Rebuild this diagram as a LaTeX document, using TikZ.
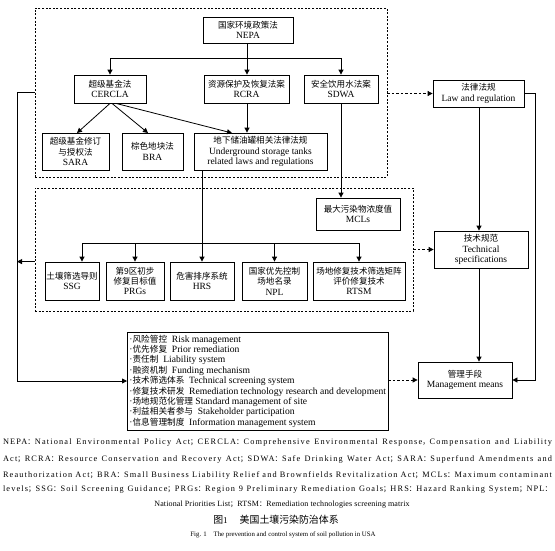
\documentclass[tikz,border=0pt]{standalone}
\usepackage{fontspec}
\setmainfont{Liberation Serif}
\newfontfamily\cjk{Noto Sans CJK SC}[Scale=0.9]
\usetikzlibrary{arrows.meta}
\newcommand\zh[1]{{\cjk #1}}
\newcommand\fc{\zh{：}}
\newcommand\fs{\zh{；}}
\tikzset{
  bx/.style={draw, line width=0.8pt, inner sep=0pt, align=center, font=\fontsize{9.5}{10.4}\selectfont},
  dbox/.style={draw, line width=0.7pt, dash pattern=on 2pt off 1.6pt, inner sep=0pt},
  ln/.style={line width=0.8pt},
  arr/.style={ln, -{Triangle[length=5pt,width=5pt]}},
  darr/.style={arr, dash pattern=on 2.5pt off 2pt},
  capline/.style={inner sep=0pt, font=\fontsize{8}{9}\selectfont},
  capjust/.style={inner sep=0pt, font=\fontsize{8.3}{9}\selectfont\addfontfeature{LetterSpace=14}},
}
\begin{document}
\begin{tikzpicture}[x=1pt,y=-1pt]
\useasboundingbox (0,0) rectangle (555,550);
% dashed groups
\node[dbox, minimum width=352pt, minimum height=169pt] (g1) at (211,92.5) {};
\node[dbox, minimum width=378pt, minimum height=123pt] (g2) at (224,249.5) {};
% first group
\node[bx, minimum width=90pt, minimum height=26pt] (nepa) at (248,30) {\zh{国家环境政策法}\\NEPA};
\node[bx, minimum width=72pt, minimum height=28pt] (cercla) at (110,89) {\zh{超级基金法}\\CERCLA};
\node[bx, minimum width=85pt, minimum height=28pt] (rcra) at (246.5,89) {\zh{资源保护及恢复法案}\\RCRA};
\node[bx, minimum width=74pt, minimum height=28pt] (sdwa) at (341,89) {\zh{安全饮用水法案}\\SDWA};
\node[bx, minimum width=67pt, minimum height=37pt] (sara) at (75.5,151.5) {\zh{超级基金修订}\\\zh{与授权法}\\SARA};
\node[bx, minimum width=61pt, minimum height=37pt] (bra) at (152.5,151.5) {\zh{棕色地块法}\\BRA};
\node[bx, minimum width=133pt, minimum height=37pt] (ust) at (260.5,151.5) {\zh{地下储油罐相关法律法规}\\Underground storage tanks\\related laws and regulations};
% second group
\node[bx, minimum width=84pt, minimum height=32pt] (mcl) at (358,214) {\zh{最大污染物浓度值}\\MCLs};
\node[bx, minimum width=54pt, minimum height=38pt] (ssg) at (72,281) {\zh{土壤筛选导则}\\SSG};
\node[bx, minimum width=58pt, minimum height=38pt] (prg) at (135,281) {\zh{第9区初步}\\\zh{修复目标值}\\PRGs};
\node[bx, minimum width=64pt, minimum height=38pt] (hrs) at (202,281) {\zh{危害排序系统}\\HRS};
\node[bx, minimum width=65pt, minimum height=38pt] (npl) at (274.5,281) {\zh{国家优先控制}\\\zh{场地名录}\\NPL};
\node[bx, minimum width=92pt, minimum height=38pt] (rtsm) at (359,281) {\zh{场地修复技术筛选矩阵}\\\zh{评价修复技术}\\RTSM};
% right column
\node[bx, minimum width=91pt, minimum height=27pt] (law) at (478.5,93.5) {\zh{法律法规}\\Law and regulation};
\node[bx, minimum width=94pt, minimum height=37pt] (tech) at (481,249.5) {\zh{技术规范}\\Technical\\specifications};
\node[bx, minimum width=94pt, minimum height=36pt] (mgmt) at (465,380) {\zh{管理手段}\\Management means};
% list box
\node[bx, minimum width=249pt, minimum height=98pt, align=left, inner xsep=2pt, anchor=west, font=\fontsize{9.6}{10.4}\selectfont] (list) at (127,381)
{·\zh{风险管控}\ \ Risk management\\
·\zh{优先修复}\ \ Prior remediation\\
·\zh{责任制}\ \ Liability system\\
·\zh{融资机制}\ \ Funding mechanism\\
·\zh{技术筛选体系}\ \ Technical screening system\\
·\zh{修复技术研发}\ \ Remediation technology research and development\\
·\zh{场地规范化管理}\ Standard management of site\\
·\zh{利益相关者参与}\ \ Stakeholder participation\\
·\zh{信息管理制度}\ \ Information management system};
% connectors group 1
\coordinate (nj) at (247,58);
\draw[ln] (nepa.south -| nj) -- (nj);
\draw[ln] (cercla.north |- nj) -- (sdwa.north |- nj);
\draw[arr] (cercla.north |- nj) -- (cercla.north);
\draw[arr] (nj) -- (rcra.north -| nj);
\draw[arr] (sdwa.north |- nj) -- (sdwa.north);
\draw[arr] (cercla.south) -- (77,133);
\draw[arr] ([xshift=2pt]cercla.south) -- (148,133);
\draw[arr] ([xshift=6pt]cercla.south) -- (232,133);
\draw[arr] (rcra.south -| nj) -- (ust.north -| nj);
% SDWA to MCL
\draw[arr] (sdwa.south) -- (mcl.north -| sdwa.south);
% UST to second row
\coordinate (uj) at (202,243);
\draw[ln] (ust.south -| uj) -- (uj);
\draw[ln] (82,243) -- (rtsm.north |- uj);
\draw[arr] (82,243) -- (ssg.north -| 82,0);
\draw[arr] (prg.north |- uj) -- (prg.north);
\draw[arr] (uj) -- (hrs.north);
\draw[arr] (npl.north |- uj) -- (npl.north);
\draw[arr] (rtsm.north |- uj) -- (rtsm.north);
% right column
\draw[darr] (g1.east |- law.west) -- (law.west);
\draw[darr] (g2.east |- tech.west) -- (tech.west);
\draw[darr] (list.east |- mgmt.west) -- (mgmt.west);
\coordinate (vx) at (479,0);
\draw[arr] (law.south -| vx) -- (tech.north -| vx);
\draw[arr] (tech.south -| vx) -- (mgmt.north -| vx);
\draw[arr] (law.east) -- (535,93.5) |- (mgmt.east);
% left loop
\coordinate (lx) at (17,0);
\draw[arr] (g1.west) -- (lx |- g1.west) |- (list.west);
\draw[arr] (g2.west |- ssg.north) -- (lx |- ssg.north);
% caption
\node[capjust] (c1) at (277.5,443) {\makebox[549pt][s]{NEPA\fc National Environmental Policy Act\fs CERCLA\fc Comprehensive Environmental Response\zh{，}Compensation and Liability}};
\node[capjust] (c2) at (277.5,459) {\makebox[549pt][s]{Act\fs RCRA\fc Resource Conservation and Recovery Act\fs SDWA\fc Safe Drinking Water Act\fs SARA\fc Superfund Amendments and}};
\node[capjust] (c3) at (277.5,475) {\makebox[549pt][s]{Reauthorization Act\fs BRA\fc Small Business Liability Relief and Brownfields Revitalization Act\fs MCLs\fc Maximum contaminant}};
\node[capjust] (c4) at (277.5,490) {\makebox[549pt][s]{levels\fs SSG\fc Soil Screening Guidance\fs PRGs\fc Region 9 Preliminary Remediation Goals\fs HRS\fc Hazard Ranking System\fs NPL\fc}};
\node[capline] (c5) at (282,505) {\addfontfeature{LetterSpace=1.5}National Priorities List\fs RTSM\fc Remediation technologies screening matrix};
\node[capline, font=\fontsize{11}{12}\selectfont] (c6) at (276,520) {\zh{图}{\fontsize{9}{10}\selectfont 1}\hspace{12pt}\zh{美国土壤污染防治体系}};
\node[capline, font=\fontsize{6.8}{8}\selectfont] (c7) at (283,535) {Fig. 1\quad The prevention and control system of soil pollution in USA};
\end{tikzpicture}
\end{document}
